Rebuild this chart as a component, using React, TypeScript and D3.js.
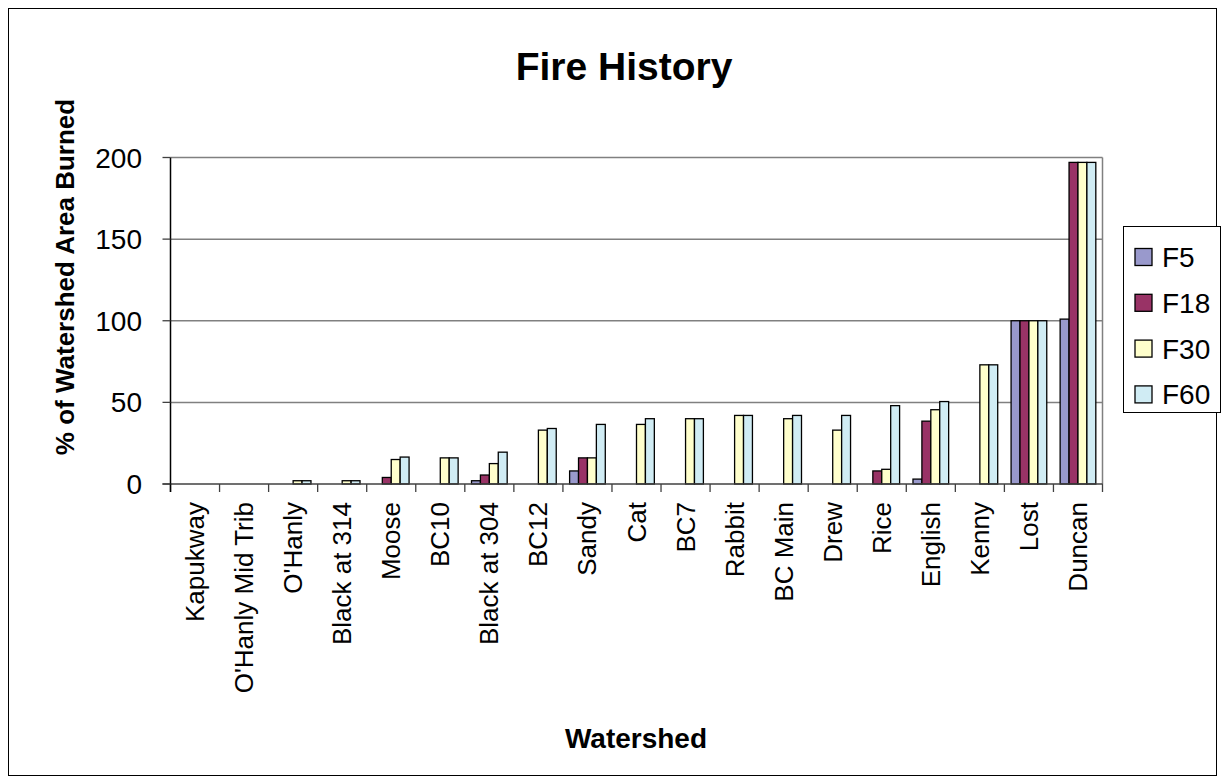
import React from 'react';
import * as d3 from 'd3';

// watershed names along the x axis
const categories = [
  'Kapukway', "O'Hanly Mid Trib", "O'Hanly", 'Black at 314', 'Moose', 'BC10',
  'Black at 304', 'BC12', 'Sandy', 'Cat', 'BC7', 'Rabbit', 'BC Main', 'Drew',
  'Rice', 'English', 'Kenny', 'Lost', 'Duncan',
];

const seriesNames = ['F5', 'F18', 'F30', 'F60'];

// % of watershed area burned
const f5 = [0, 0, 0, 0, 0, 0, 2, 0, 8, 0, 0, 0, 0, 0, 0, 3, 0, 100, 101];
const f18 = [0, 0, 0, 0, 4, 0, 5.5, 0, 16, 0, 0, 0, 0, 0, 8, 38.5, 0, 100, 197];
const f30 = [0, 0, 2, 2, 15, 16, 12.5, 33, 16, 36.5, 40, 42, 40, 33, 9, 45.5, 73, 100, 197];
const f60 = [0, 0, 2, 2, 16.5, 16, 19.5, 34, 36.5, 40, 40, 42, 42, 42, 48, 50.5, 73, 100, 197];

const yTicks = [0, 50, 100, 150, 200];

const colors = ['#9999cc', '#993366', '#ffffcc', '#d0ecf4'];
const font = 'Liberation Sans, Arial, sans-serif';

export default function App() {
  const values = [f5, f18, f30, f60];

  // plot area
  const left = 170.5;
  const right = 1102.5;
  const top = 157.5;
  const bottom = 484;

  const x0 = d3.scaleBand().domain(categories).range([left, right]);
  const x1 = d3
    .scaleBand()
    .domain(seriesNames)
    .range([0, x0.bandwidth()])
    .paddingInner(0)
    .paddingOuter(0.75);
  const y = d3.scaleLinear().domain([0, 200]).range([bottom, top]);

  const legendRowY = (i: number) => 257 + i * 45.8;

  return (
    <svg
      width={1225}
      height={784}
      style={{ position: 'absolute', left: 0, top: 0, display: 'block' }}
    >
      <rect x={0} y={0} width={1225} height={784} fill="#fff" />
      <rect x={8.5} y={8.5} width={1208} height={767} fill="#fff" stroke="#000" strokeWidth={1} />

      {/* title */}
      <text x={624} y={80} textAnchor="middle" fontFamily={font} fontWeight="bold" fontSize={39}>
        Fire History
      </text>

      {/* gridlines */}
      {yTicks.filter(t => t > 0).map(t => (
        <line key={t} x1={left} x2={right} y1={y(t)} y2={y(t)} stroke="#808080" strokeWidth={1.5} />
      ))}
      {/* plot area border, right side */}
      <line x1={right} x2={right} y1={top} y2={bottom} stroke="#808080" strokeWidth={1.5} />

      {/* bars */}
      {categories.map((c, ci) => (
        <g key={c} transform={`translate(${x0(c)},0)`}>
          {seriesNames.map((s, si) => {
            const v = values[si][ci];
            if (!v) return null;
            return (
              <rect
                key={s}
                x={x1(s)}
                y={y(v)}
                width={x1.bandwidth()}
                height={bottom - y(v)}
                fill={colors[si]}
                stroke="#000"
                strokeWidth={1.3}
              />
            );
          })}
        </g>
      ))}

      {/* x axis */}
      <line x1={left - 8} x2={right} y1={bottom} y2={bottom} stroke="#404040" strokeWidth={1.5} />
      {[...categories.map(c => x0(c) as number), right].map((xv, i) => (
        <line key={i} x1={xv} x2={xv} y1={bottom} y2={bottom + 8} stroke="#404040" strokeWidth={1.3} />
      ))}
      {categories.map(c => {
        const cx = (x0(c) as number) + x0.bandwidth() / 2;
        return (
          <text
            key={c}
            transform={`translate(${cx + 9},${502}) rotate(-90)`}
            textAnchor="end"
            fontFamily={font}
            fontSize={26}
          >
            {c}
          </text>
        );
      })}

      {/* y axis */}
      <line x1={left} x2={left} y1={top} y2={bottom + 8} stroke="#000" strokeWidth={1.5} />
      {yTicks.map(t => (
        <g key={t}>
          <line x1={left - 8} x2={left} y1={y(t)} y2={y(t)} stroke="#404040" strokeWidth={1.3} />
          <text x={142} y={y(t) + 10} textAnchor="end" fontFamily={font} fontSize={28}>
            {t}
          </text>
        </g>
      ))}

      {/* axis titles */}
      <text
        transform={`translate(${74},${277}) rotate(-90)`}
        textAnchor="middle"
        fontFamily={font}
        fontWeight="bold"
        fontSize={26}
      >
        % of Watershed Area Burned
      </text>
      <text x={636} y={748} textAnchor="middle" fontFamily={font} fontWeight="bold" fontSize={28}>
        Watershed
      </text>

      {/* legend */}
      <rect x={1123.5} y={226.5} width={97} height={186} fill="#fff" stroke="#000" strokeWidth={1} />
      {seriesNames.map((s, i) => (
        <g key={s}>
          <rect
            x={1135}
            y={legendRowY(i) - 8.5}
            width={17}
            height={17}
            fill={colors[i]}
            stroke="#000"
            strokeWidth={1.3}
          />
          <text x={1162} y={legendRowY(i) + 10} fontFamily={font} fontSize={28}>
            {s}
          </text>
        </g>
      ))}
    </svg>
  );
}
